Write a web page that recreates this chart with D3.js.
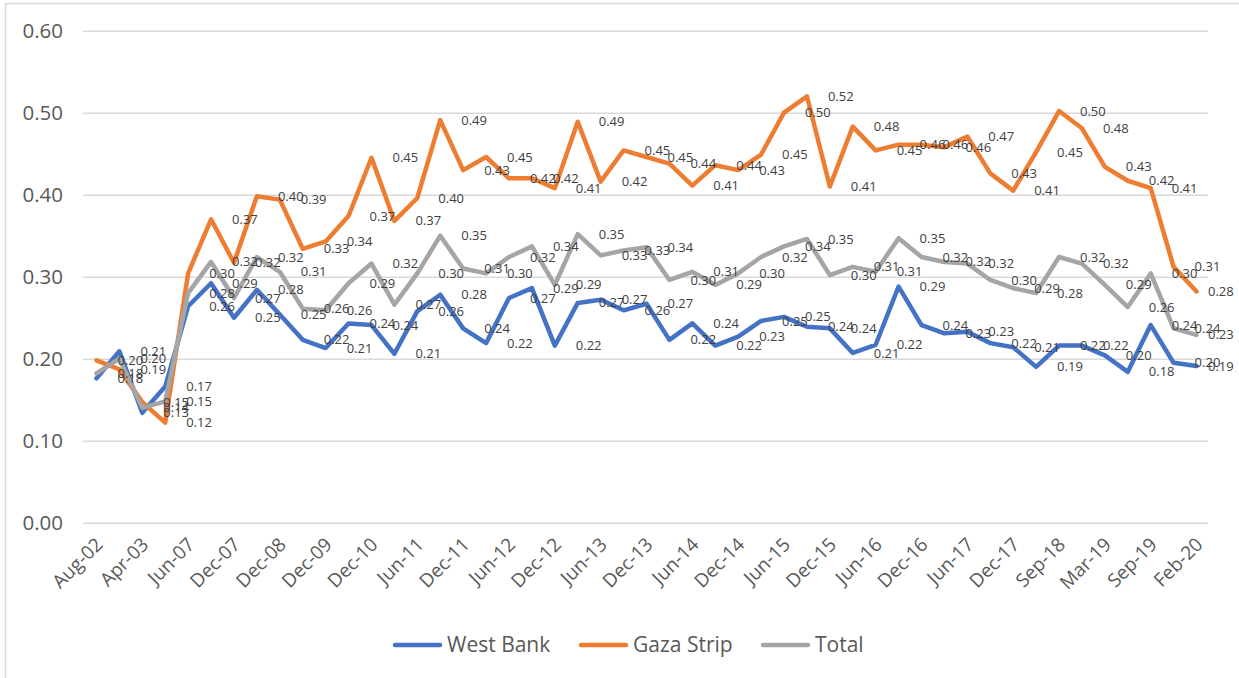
<!DOCTYPE html>
<html>
<head>
<meta charset="utf-8">
<script src="https://cdn.jsdelivr.net/npm/d3@7"></script>
<style>
  body { margin: 0; background: #fff; }
  svg text { font-family: "Open Sans", "Noto Sans", sans-serif; }
</style>
</head>
<body>
<div id="chart"></div>
<script>
// survey rounds (only every second one is labelled on the axis)
const dates = ["Aug-02","Dec-02","Apr-03","Mar-07","Jun-07","Sep-07","Dec-07","Jun-08","Dec-08","Jun-09",
  "Dec-09","Jun-10","Dec-10","Mar-11","Jun-11","Sep-11","Dec-11","Mar-12","Jun-12","Sep-12",
  "Dec-12","Mar-13","Jun-13","Sep-13","Dec-13","Mar-14","Jun-14","Sep-14","Dec-14","Mar-15",
  "Jun-15","Sep-15","Dec-15","Mar-16","Jun-16","Sep-16","Dec-16","Mar-17","Jun-17","Sep-17",
  "Dec-17","Jun-18","Sep-18","Dec-18","Mar-19","Jun-19","Sep-19","Dec-19","Feb-20"];

const westBank = [0.176,0.209,0.134,0.166,0.264,0.292,0.250,0.284,0.254,0.223,
  0.213,0.243,0.241,0.206,0.258,0.278,0.237,0.219,0.274,0.286,
  0.216,0.268,0.272,0.259,0.267,0.223,0.243,0.216,0.227,0.246,
  0.251,0.239,0.237,0.207,0.217,0.288,0.241,0.231,0.233,0.219,
  0.214,0.190,0.216,0.216,0.204,0.184,0.241,0.195,0.191];

const gazaStrip = [0.198,0.187,0.147,0.122,0.304,0.370,0.317,0.398,0.394,0.334,
  0.343,0.374,0.445,0.368,0.396,0.491,0.430,0.446,0.420,0.420,
  0.408,0.489,0.416,0.454,0.446,0.438,0.411,0.436,0.430,0.449,
  0.500,0.520,0.410,0.483,0.454,0.461,0.461,0.458,0.471,0.426,
  0.405,0.452,0.502,0.481,0.434,0.417,0.408,0.312,0.282];

const total = [0.182,0.200,0.140,0.148,0.280,0.318,0.274,0.324,0.306,0.261,
  0.259,0.292,0.316,0.266,0.304,0.350,0.310,0.304,0.324,0.337,
  0.290,0.352,0.326,0.332,0.336,0.296,0.306,0.290,0.304,0.324,
  0.337,0.346,0.302,0.312,0.306,0.347,0.324,0.318,0.316,0.296,
  0.286,0.280,0.324,0.316,0.290,0.263,0.304,0.237,0.229];

const yTicks = [0, 0.1, 0.2, 0.3, 0.4, 0.5, 0.6];

const series = [
  { name: "West Bank", values: westBank, color: "#4472C4" },
  { name: "Gaza Strip", values: gazaStrip, color: "#ED7D31" },
  { name: "Total", values: total, color: "#A5A5A5" }
];

const width = 1239, height = 678;
const svg = d3.select("#chart").append("svg")
  .attr("width", width).attr("height", height);

// outer chart frame
svg.append("rect")
  .attr("x", 5.5).attr("y", 3.5)
  .attr("width", 1240).attr("height", 690)
  .attr("fill", "none").attr("stroke", "#d9d9d9").attr("stroke-width", 1.5);

const x = d3.scalePoint().domain(dates).range([85, 1208]).padding(0.5);
const y = d3.scaleLinear().domain([0, 0.6]).range([522.7, 30.7]);

// gridlines + y labels
const yAxis = d3.axisLeft(y).tickValues(yTicks).tickFormat(d3.format(".2f"))
  .tickSize(-(1208 - 83)).tickPadding(20);
const gy = svg.append("g").attr("transform", "translate(83,0)").call(yAxis);
gy.select(".domain").remove();
gy.selectAll("line").attr("stroke", "#d9d9d9").attr("stroke-width", 1.5);
gy.selectAll("text").attr("fill", "#595959").style("font-size", "20.5px");

// x labels, every second category
const xAxis = d3.axisBottom(x).tickValues(dates.filter((d, i) => i % 2 === 0)).tickSize(0);
const gx = svg.append("g").attr("transform", "translate(0,522.7)").call(xAxis);
gx.select(".domain").remove();
gx.selectAll("text")
  .attr("fill", "#595959").style("font-size", "19px")
  .attr("text-anchor", "end")
  .attr("dy", 0).attr("y", 0)
  .attr("transform", "translate(7,23) rotate(-45)");

const line = d3.line()
  .x((d, i) => x(dates[i]))
  .y(d => y(d));

svg.selectAll("path.series")
  .data(series).enter()
  .append("path")
  .attr("class", "series")
  .attr("d", d => line(d.values))
  .attr("fill", "none")
  .attr("stroke", d => d.color)
  .attr("stroke-width", 4.5)
  .attr("stroke-linejoin", "round")
  .attr("stroke-linecap", "round");

// data labels to the right of each point
series.forEach(s => {
  svg.append("g").selectAll("text")
    .data(s.values).enter()
    .append("text")
    .attr("x", (d, i) => Math.min(x(dates[i]) + 21, 1208))
    .attr("y", d => y(d))
    .attr("dy", "0.35em")
    .attr("fill", "#404040")
    .style("font-size", "13px")
    .text(d => d.toFixed(2));
});

// legend
const legendX = [395, 581, 763];
const lg = svg.append("g").selectAll("g")
  .data(series).enter()
  .append("g")
  .attr("transform", (d, i) => `translate(${legendX[i]},645)`);
lg.append("line")
  .attr("x1", 0).attr("x2", 45).attr("y1", 0).attr("y2", 0)
  .attr("stroke", d => d.color).attr("stroke-width", 4.5)
  .attr("stroke-linecap", "round");
lg.append("text")
  .attr("x", 52).attr("dy", "0.35em")
  .attr("fill", "#595959").style("font-size", "21px")
  .text(d => d.name);
</script>
</body>
</html>
